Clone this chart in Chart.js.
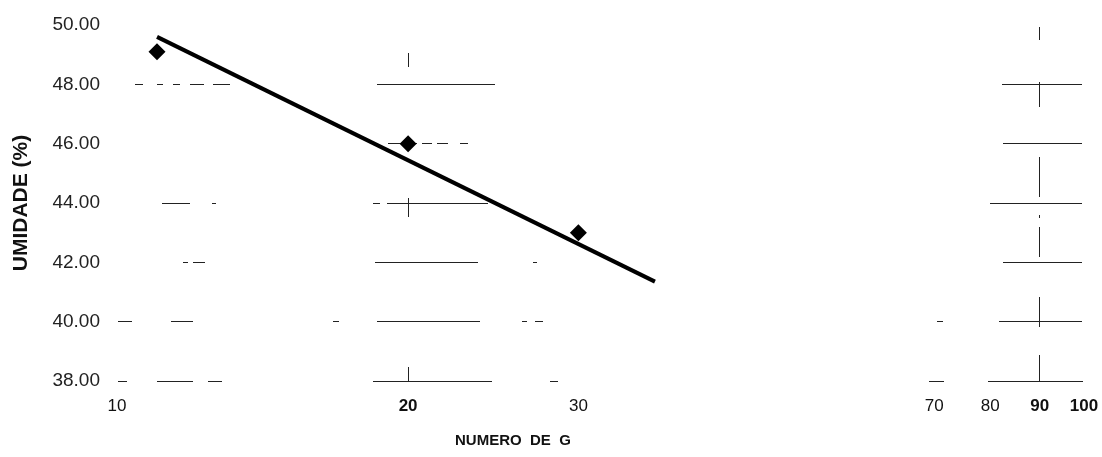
<!DOCTYPE html>
<html>
<head>
<meta charset="utf-8">
<script src="https://cdn.jsdelivr.net/npm/chart.js@4/dist/chart.umd.min.js"></script>
<style>
  html, body { margin: 0; padding: 0; background: #fff; }
  #wrap { width: 1102px; height: 457px; }
</style>
</head>
<body>
<div id="wrap"><canvas id="c" width="1102" height="457"></canvas></div>
<script>
// Umidade x número de golpes (escala logarítmica)
const golpes = [11, 20, 30];
const umidade = [49.1, 46.0, 43.0];

// Reta de ajuste
const retaGolpes = [11, 36];
const retaUmidade = [49.6, 41.35];

// Marcas dos eixos
const xTickValues = [10, 20, 30, 40, 50, 60, 70, 80, 90, 100];
const xTickLabels = ['10', '20', '30', '', '', '', '70', '80', '90', '100'];
const yTickValues = [38, 40, 42, 44, 46, 48, 50];
const yTickLabels = ['38.00', '40.00', '42.00', '44.00', '46.00', '48.00', '50.00'];
const xTitle = 'NUMERO  DE  G';
const yTitle = 'UMIDADE (%)';

// ---- estilo das linhas de grade (trechos visíveis, em px a partir do início da linha) ----
const hGridSegments = {
  38: [[1,10],[40,76],[91,105],[256,375],[433,441],[812,827],[871,966]],
  40: [[1,15],[54,76],[216,222],[260,363],[405,410],[418,426],[820,826],[882,965]],
  42: [[66,71],[76,88],[258,361],[416,420],[886,965]],
  44: [[45,73],[95,99],[256,263],[270,371],[873,965]],
  46: [[271,300],[305,315],[320,331],[343,351],[886,965]],
  48: [[18,26],[40,46],[56,63],[73,87],[96,113],[260,378],[885,965]],
  50: []
};
const vGridSegments = {
  20: [[28,42],[173,192],[342,356]],
  90: [[2,15],[57,82],[132,172],[190,193],[202,232],[272,302],[330,357]]
};
function toDash(segs) {
  if (!segs || !segs.length) return [0, 5000];
  const dash = [];
  if (segs[0][0] > 0) dash.push(0, segs[0][0]);
  segs.forEach((s, i) => {
    dash.push(s[1] - s[0]);
    const next = i + 1 < segs.length ? segs[i + 1][0] : s[1] + 5000;
    dash.push(next - s[1]);
  });
  return dash;
}

const FONT = "'Liberation Sans', Arial, sans-serif";
const boldX = [20, 90, 100];

// título do eixo x, escrito abaixo das marcas, à esquerda do centro
const xTitlePlugin = {
  id: 'xTitle',
  afterDraw(chart) {
    const { ctx, chartArea } = chart;
    ctx.save();
    ctx.font = `bold 15px ${FONT}`;
    ctx.fillStyle = '#111';
    ctx.textAlign = 'left';
    ctx.textBaseline = 'middle';
    ctx.fillText(xTitle, chartArea.left + 338, chartArea.bottom + 60);
    ctx.restore();
  }
};

new Chart(document.getElementById('c'), {
  type: 'scatter',
  data: {
    datasets: [
      {
        label: 'Umidade',
        data: golpes.map((g, i) => ({ x: g, y: umidade[i] })),
        pointStyle: 'rectRot',
        pointRadius: 8.5,
        pointBackgroundColor: '#000',
        pointBorderColor: '#000',
        pointBorderWidth: 0,
        showLine: false
      },
      {
        label: 'Ajuste',
        data: retaGolpes.map((g, i) => ({ x: g, y: retaUmidade[i] })),
        showLine: true,
        borderColor: '#000',
        borderWidth: 4,
        pointRadius: 0,
        fill: false
      }
    ]
  },
  plugins: [xTitlePlugin],
  options: {
    responsive: false,
    animation: false,
    devicePixelRatio: 1,
    layout: { padding: { top: 25, right: 18, bottom: 0, left: 0 } },
    plugins: { legend: { display: false }, tooltip: { enabled: false } },
    scales: {
      x: {
        type: 'logarithmic',
        min: 10,
        max: 100,
        afterBuildTicks: (scale) => { scale.ticks = xTickValues.map(v => ({ value: v })); },
        afterFit: (scale) => { scale.height = 76; scale.paddingLeft = 0; scale.paddingRight = 0; },
        ticks: {
          autoSkip: false,
          maxRotation: 0,
          padding: 15,
          color: '#111',
          font: (ctx) => ({ family: FONT, size: 17, weight: ctx.tick && boldX.includes(ctx.tick.value) ? 'bold' : 'normal' }),
          callback: (value) => {
            const i = xTickValues.indexOf(value);
            return i >= 0 ? xTickLabels[i] : '';
          }
        },
        grid: {
          drawTicks: false,
          lineWidth: 1,
          color: (ctx) => (ctx.tick && vGridSegments[ctx.tick.value]) ? '#222' : 'rgba(0,0,0,0)'
        },
        border: {
          display: false,
          dash: (ctx) => toDash(ctx.tick ? vGridSegments[ctx.tick.value] : null)
        },
        title: { display: false }
      },
      y: {
        min: 38,
        max: 50,
        afterBuildTicks: (scale) => { scale.ticks = yTickValues.map(v => ({ value: v })); },
        afterFit: (scale) => { scale.width = 117; scale.paddingTop = 0; scale.paddingBottom = 0; },
        ticks: {
          padding: 17,
          color: '#222',
          font: { family: FONT, size: 19 },
          callback: (value) => {
            const i = yTickValues.indexOf(value);
            return i >= 0 ? yTickLabels[i] : '';
          }
        },
        grid: {
          drawTicks: false,
          lineWidth: 1,
          color: (ctx) => (ctx.tick && ctx.tick.value !== 50) ? '#222' : 'rgba(0,0,0,0)'
        },
        border: {
          display: false,
          dash: (ctx) => toDash(ctx.tick ? hGridSegments[ctx.tick.value] : null)
        },
        title: {
          display: true,
          text: yTitle,
          color: '#111',
          font: { family: FONT, size: 21, weight: 'bold' },
          padding: { top: 9, bottom: 0 }
        }
      }
    }
  }
});
</script>
</body>
</html>
